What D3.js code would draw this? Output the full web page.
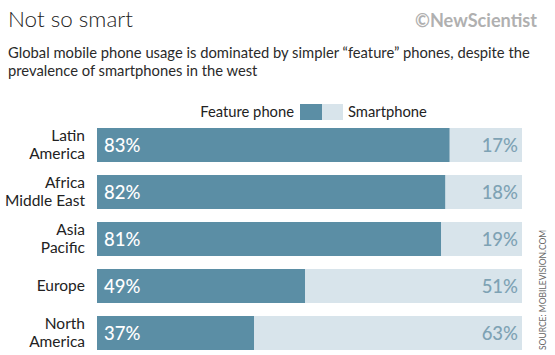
<!DOCTYPE html>
<html>
<head>
<meta charset="utf-8">
<script src="https://cdn.jsdelivr.net/npm/d3@7"></script>
<style>
  html, body { margin: 0; padding: 0; background: #fff; }
  svg { display: block; }
  text { font-family: Lato, "Open Sans", sans-serif; }
</style>
</head>
<body>
<svg id="chart" width="555" height="355"></svg>
<script>
const categories = [["Latin", "America"], ["Africa", "Middle East"], ["Asia", "Pacific"], ["Europe"], ["North", "America"]];
const featurePhone = [83, 82, 81, 49, 37];
const smartphone = [17, 18, 19, 51, 63];
const seriesNames = ["Feature phone", "Smartphone"];
const title = "Not so smart";
const subtitleLines = ["Global mobile phone usage is dominated by simpler \u201cfeature\u201d phones, despite the", "prevalence of smartphones in the west"];
const sourceText = "SOURCE: MOBILEVISION.COM";
const logoText = "\u00A9NewScientist";

const darkCol = "#5b8ea5";
const lightCol = "#d8e4eb";

const svg = d3.select("#chart");
const keys = categories.map(c => c.join(" "));

const x = d3.scaleLinear().domain([0, 100]).range([97, 522]);
const y = d3.scaleBand().domain(keys).range([128, 350]).paddingInner(13 / 47).paddingOuter(0);

function fit(sel, target) {
  const node = sel.node();
  const fs = parseFloat(sel.attr("font-size"));
  const w = node.getComputedTextLength();
  if (w > 0) sel.attr("font-size", (fs * target / w).toFixed(2));
}

// title
const t = svg.append("text").attr("x", 8).attr("y", 27).attr("font-size", 22)
  .attr("font-weight", 300).attr("fill", "#222").text(title);
fit(t, 125);

// logo
const lg = svg.append("text").attr("x", 537).attr("y", 27).attr("text-anchor", "end")
  .attr("font-size", 15).attr("font-weight", 700).attr("fill", "#b0b0b0").text(logoText);
fit(lg, 122);

// subtitle
const s1 = svg.append("text").attr("x", 8).attr("y", 58).attr("font-size", 15).attr("fill", "#2a2a2a").text(subtitleLines[0]);
fit(s1, 522);
const sfs = s1.attr("font-size");
svg.append("text").attr("x", 8).attr("y", 76).attr("font-size", sfs).attr("fill", "#2a2a2a").text(subtitleLines[1]);

// legend
const legY = 104, legH = 16;
svg.append("rect").attr("x", 300).attr("y", legY).attr("width", 22).attr("height", legH).attr("fill", darkCol);
svg.append("rect").attr("x", 322).attr("y", legY).attr("width", 21).attr("height", legH).attr("fill", lightCol);
svg.append("text").attr("x", 294).attr("y", legY + legH / 2).attr("dy", "0.35em").attr("text-anchor", "end")
  .attr("font-size", sfs).attr("fill", "#222").text(seriesNames[0]);
svg.append("text").attr("x", 348).attr("y", legY + legH / 2).attr("dy", "0.35em")
  .attr("font-size", sfs).attr("fill", "#222").text(seriesNames[1]);

// bars
const rows = svg.append("g").selectAll("g").data(keys).join("g");
rows.append("rect").attr("x", x(0)).attr("y", d => y(d))
  .attr("width", (d, i) => x(featurePhone[i]) - x(0)).attr("height", y.bandwidth()).attr("fill", darkCol);
rows.append("rect").attr("x", (d, i) => x(featurePhone[i])).attr("y", d => y(d))
  .attr("width", (d, i) => x(featurePhone[i] + smartphone[i]) - x(featurePhone[i])).attr("height", y.bandwidth()).attr("fill", lightCol);

// value labels
rows.append("text").attr("x", x(0) + 7).attr("y", d => y(d) + y.bandwidth() / 2).attr("dy", "0.36em")
  .attr("font-size", 18.5).attr("font-weight", 500).attr("fill", "#fff").text((d, i) => featurePhone[i] + "%");
rows.append("text").attr("x", x(100) - 4).attr("y", d => y(d) + y.bandwidth() / 2).attr("dy", "0.36em")
  .attr("text-anchor", "end").attr("font-size", 18.5).attr("font-weight", 500).attr("fill", "#7ea2b4").text((d, i) => smartphone[i] + "%");

// category labels
rows.each(function (d, i) {
  const lines = categories[i];
  const cy = y(d) + y.bandwidth() / 2;
  const lh = 18;
  const g = d3.select(this);
  lines.forEach((ln, j) => {
    g.append("text").attr("x", 85).attr("y", cy + (j - (lines.length - 1) / 2) * lh).attr("dy", "0.35em")
      .attr("text-anchor", "end").attr("font-size", 15.5).attr("fill", "#222").text(ln);
  });
});

// source
svg.append("text").attr("transform", "translate(546,350) rotate(-90)")
  .attr("font-size", 8.5).attr("fill", "#666").text(sourceText);
</script>
</body>
</html>
